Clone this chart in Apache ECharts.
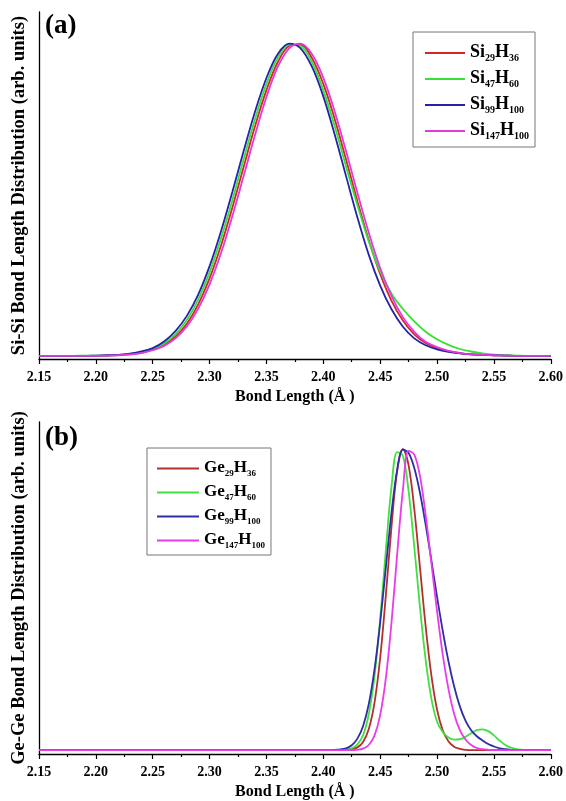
<!DOCTYPE html>
<html>
<head>
<meta charset="utf-8">
<script src="https://cdn.jsdelivr.net/npm/echarts@6/dist/echarts.min.js"></script>
<style>
html,body{margin:0;padding:0;background:#fff;}
#chart{width:566px;height:801px;}
</style>
</head>
<body>
<div id="chart"></div>
<script>
// ---- panel (a): Si-Si ----
const siX = [2.15,2.16,2.17,2.18,2.19,2.20,2.21,2.22,2.23,2.24,2.25,2.26,2.27,2.28,2.29,2.30,2.31,2.32,2.33,2.34,2.35,2.36,2.37,2.38,2.39,2.40,2.41,2.42,2.43,2.44,2.45,2.46,2.47,2.48,2.49,2.50,2.51,2.52,2.53,2.54,2.55,2.56,2.57,2.58,2.59,2.60];
const siNames = ['Si29H36','Si47H60','Si99H100','Si147H100'];
const si29 = [0,0,0,0,0,0,0.001,0.003,0.005,0.010,0.020,0.036,0.062,0.103,0.165,0.248,0.352,0.474,0.605,0.735,0.850,0.940,0.991,0.996,0.953,0.870,0.758,0.628,0.495,0.370,0.262,0.176,0.113,0.069,0.041,0.025,0.015,0.009,0.005,0.003,0.002,0.001,0,0,0,0];
const si47 = [0,0,0,0,0.001,0.001,0.001,0.003,0.006,0.012,0.023,0.040,0.069,0.115,0.180,0.267,0.375,0.498,0.630,0.758,0.870,0.954,0.996,0.991,0.940,0.850,0.735,0.606,0.482,0.366,0.270,0.199,0.150,0.110,0.077,0.053,0.035,0.022,0.014,0.008,0.004,0.002,0.001,0,0,0];
const si99 = [0,0,0,0,0,0.001,0.002,0.003,0.007,0.014,0.025,0.046,0.079,0.128,0.196,0.287,0.398,0.524,0.656,0.782,0.889,0.966,0.999,0.984,0.925,0.830,0.708,0.575,0.443,0.323,0.225,0.149,0.093,0.056,0.034,0.021,0.013,0.008,0.005,0.003,0.002,0.001,0,0,0,0];
const si147 = [0,0,0,0,0,0,0.001,0.002,0.005,0.009,0.018,0.032,0.056,0.094,0.151,0.229,0.328,0.447,0.576,0.707,0.828,0.925,0.984,0.999,0.966,0.890,0.782,0.655,0.522,0.394,0.281,0.191,0.124,0.077,0.045,0.028,0.016,0.009,0.005,0.003,0.002,0.001,0,0,0,0];

// ---- panel (b): Ge-Ge ----
const geX = [2.15,2.20,2.25,2.30,2.35,2.400,2.405,2.410,2.415,2.420,2.425,2.430,2.435,2.440,2.445,2.450,2.455,2.460,2.465,2.470,2.475,2.480,2.485,2.490,2.495,2.500,2.505,2.510,2.515,2.520,2.525,2.530,2.535,2.540,2.545,2.550,2.555,2.560,2.565,2.570,2.575,2.580,2.59,2.60];
const geNames = ['Ge29H36','Ge47H60','Ge99H100','Ge147H100'];
const ge29 = [0,0,0,0,0, 0,0,0,0,0.001,0.003,0.009,0.027,0.070,0.157,0.306,0.514,0.744,0.929,1.000,0.946,0.801,0.607,0.411,0.249,0.135,0.066,0.029,0.011,0.004,0.001,0,0,0,0,0,0,0,0,0,0,0, 0,0];
const ge47 = [0,0,0,0,0, 0,0,0,0.001,0.002,0.006,0.019,0.050,0.120,0.245,0.435,0.665,0.876,0.990,0.978,0.860,0.675,0.475,0.300,0.172,0.095,0.060,0.042,0.035,0.036,0.044,0.056,0.066,0.069,0.063,0.049,0.032,0.017,0.008,0.003,0.001,0, 0,0];
const ge99 = [0,0,0,0,0, 0,0,0.001,0.002,0.006,0.016,0.038,0.080,0.153,0.267,0.423,0.607,0.790,0.932,0.998,0.987,0.937,0.855,0.749,0.631,0.510,0.397,0.296,0.212,0.146,0.098,0.066,0.046,0.032,0.020,0.012,0.006,0.003,0.001,0,0,0, 0,0];
const ge147 = [0,0,0,0,0, 0,0,0,0,0,0,0.001,0.005,0.017,0.048,0.116,0.239,0.425,0.653,0.865,0.994,0.982,0.911,0.781,0.623,0.462,0.318,0.204,0.121,0.067,0.035,0.017,0.007,0.003,0.001,0,0,0,0,0,0,0, 0,0];

const xTickMin = 2.15, xTickMax = 2.60, xTickStep = 0.05;

const SERIF = '"Liberation Serif","Times New Roman",serif';
const topColors = ['#d42626','#36e036','#2323aa','#e03ae0'];
const botColors = ['#b3302c','#3fe03f','#2e2ea6','#ea3aea'];

function pairs(xs, ys){ return xs.map((x,i)=>[x, ys[i]]); }

function legendFmt(name){
  return name.replace(/([A-Za-z]+)|(\d+)/g, (m, a, d) => a ? '{b|' + a + '}' : '{s|' + d + '}');
}

function xAxisFor(idx){
  return {
    type:'value', gridIndex: idx, min: xTickMin, max: xTickMax, interval: xTickStep,
    axisLine:{show:true, onZero:false, lineStyle:{color:'#000', width:1.3}},
    axisTick:{show:true, length:5, lineStyle:{color:'#000', width:1.2}},
    minorTick:{show:true, splitNumber:2, length:3, lineStyle:{color:'#000', width:1.2}},
    splitLine:{show:false},
    axisLabel:{formatter: v => v.toFixed(2), fontFamily: SERIF, fontWeight:'bold', fontSize:14, color:'#000', margin:11},
    name:'Bond Length (Å )', nameLocation:'middle', nameGap:30,
    nameTextStyle:{fontFamily: SERIF, fontWeight:'bold', fontSize:16, color:'#000'}
  };
}
function yAxisFor(idx, name, min, max){
  return {
    type:'value', gridIndex: idx, min: min, max: max,
    axisLine:{show:true, lineStyle:{color:'#000', width:1.3}},
    axisTick:{show:false}, axisLabel:{show:false}, splitLine:{show:false},
    name: name, nameLocation:'middle', nameGap:10,
    nameTextStyle:{fontFamily: SERIF, fontWeight:'bold', fontSize:18.5, color:'#000'}
  };
}
function lineSeries(name, xs, ys, color, idx){
  return {
    name: name, type:'line', xAxisIndex: idx, yAxisIndex: idx,
    data: pairs(xs, ys), showSymbol:false, symbol:'none',
    smooth: 0.35,
    lineStyle:{color: color, width:1.8}, itemStyle:{color: color},
    animation:false
  };
}
const richLegend = (size, sub, pad) => ({
  b:{fontFamily: SERIF, fontWeight:'bold', fontSize: size, color:'#000', verticalAlign:'top', lineHeight: size+2},
  s:{fontFamily: SERIF, fontWeight:'bold', fontSize: sub, color:'#000', verticalAlign:'bottom', lineHeight: sub, padding:[pad,0,0,0]}
});

const chart = echarts.init(document.getElementById('chart'), null, {renderer:'canvas'});
chart.setOption({
  animation:false,
  backgroundColor:'#fff',
  title:[
    {text:'(a)', left:40, top:8, textStyle:{fontFamily: SERIF, fontWeight:'bold', fontSize:27, color:'#000'}},
    {text:'(b)', left:40, top:420, textStyle:{fontFamily: SERIF, fontWeight:'bold', fontSize:27, color:'#000'}}
  ],
  grid:[
    {left:39, right:11, top:12, height:347},
    {left:39, right:11, top:422, height:335}
  ],
  xAxis:[xAxisFor(0), xAxisFor(1)],
  yAxis:[
    yAxisFor(0, 'Si-Si Bond Length Distribution (arb. units)', -0.01, 1.1),
    yAxisFor(1, 'Ge-Ge Bond Length Distribution (arb. units)', -0.013, 1.09)
  ],
  legend:[
    {data: siNames, orient:'vertical', left:413, top:32, icon:'rect', itemWidth:40, itemHeight:2, itemGap:4,
     borderColor:'#777', borderWidth:1, padding:[9,6,6,12], formatter: legendFmt,
     textStyle:{rich: richLegend(18, 10, 12)}},
    {data: geNames, orient:'vertical', left:147, top:448, icon:'rect', itemWidth:42, itemHeight:2, itemGap:4,
     borderColor:'#777', borderWidth:1, padding:[10,6,5,10], formatter: legendFmt,
     textStyle:{rich: richLegend(17, 9, 11)}}
  ],
  series:[
    lineSeries(siNames[0], siX, si29, topColors[0], 0),
    lineSeries(siNames[1], siX, si47, topColors[1], 0),
    lineSeries(siNames[2], siX, si99, topColors[2], 0),
    lineSeries(siNames[3], siX, si147, topColors[3], 0),
    lineSeries(geNames[0], geX, ge29, botColors[0], 1),
    lineSeries(geNames[1], geX, ge47, botColors[1], 1),
    lineSeries(geNames[2], geX, ge99, botColors[2], 1),
    lineSeries(geNames[3], geX, ge147, botColors[3], 1)
  ]
});
</script>
</body>
</html>
